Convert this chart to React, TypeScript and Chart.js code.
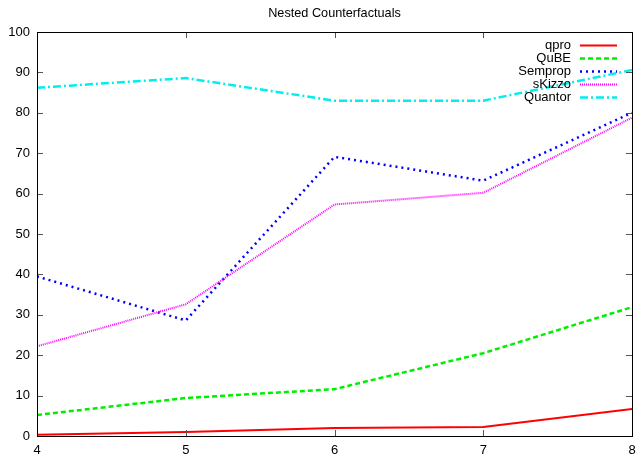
import React, { useEffect, useRef } from "react";
import { Chart, registerables } from "chart.js";

Chart.register(...registerables);

const categories = [4, 5, 6, 7, 8];
const qpro = [0.3, 1.0, 2.0, 2.2, 6.7];
const qube = [5.2, 9.4, 11.6, 20.5, 31.9];
const semprop = [39.5, 28.6, 69.1, 63.2, 80.0];
const skizzo = [22.2, 32.6, 57.3, 60.2, 78.8];
const quantor = [86.2, 88.6, 83.0, 83.0, 90.6];
const yTicks = [0, 10, 20, 30, 40, 50, 60, 70, 80, 90, 100];
const titleText = "Nested Counterfactuals";

const FONT = "'Liberation Sans', Arial, sans-serif";

const series = [
  { label: "qpro", data: qpro, color: "#ff0000", dash: [] as number[], width: 2 },
  { label: "QuBE", data: qube, color: "#00ee00", dash: [5, 3], width: 2.5 },
  { label: "Semprop", data: semprop, color: "#0000ff", dash: [2, 4], width: 2.5 },
  { label: "sKizzo", data: skizzo, color: "#ff00ff", dash: [1, 1], width: 2 },
  { label: "Quantor", data: quantor, color: "#00eeee", dash: [8, 3, 2, 3], width: 2.5 },
];

const framePlugin = {
  id: "frame",
  afterDraw(chart: any) {
    const { ctx, chartArea } = chart;
    const { left, right, top, bottom } = chartArea;
    const xs = chart.scales.x;
    const ys = chart.scales.y;
    ctx.save();
    ctx.strokeStyle = "#555";
    ctx.lineWidth = 1;
    ctx.beginPath();
    for (const v of yTicks) {
      const y = Math.round(ys.getPixelForValue(v)) + 0.5;
      ctx.moveTo(left, y);
      ctx.lineTo(left + 6, y);
      ctx.moveTo(right, y);
      ctx.lineTo(right - 6, y);
    }
    for (const v of categories) {
      const x = Math.round(xs.getPixelForValue(v)) + 0.5;
      ctx.moveTo(x, bottom);
      ctx.lineTo(x, bottom - 6);
      ctx.moveTo(x, top);
      ctx.lineTo(x, top + 6);
    }
    ctx.stroke();
    ctx.strokeStyle = "#000";
    ctx.lineWidth = 1;
    ctx.strokeRect(Math.round(left) + 0.5, Math.round(top) + 0.5, Math.round(right - left), Math.round(bottom - top));
    ctx.fillStyle = "#000";
    ctx.font = `12.7px ${FONT}`;
    ctx.textAlign = "center";
    ctx.textBaseline = "middle";
    ctx.fillText(titleText, (left + right) / 2, 13);
    ctx.font = `13px ${FONT}`;
    ctx.textAlign = "right";
    series.forEach((s, i) => {
      const y = 45 + i * 13;
      ctx.fillStyle = "#000";
      ctx.fillText(s.label, 571, y);
      ctx.strokeStyle = s.color;
      ctx.lineWidth = s.width;
      ctx.setLineDash(s.dash);
      ctx.beginPath();
      ctx.moveTo(580, y + 0.5);
      ctx.lineTo(617, y + 0.5);
      ctx.stroke();
      ctx.setLineDash([]);
    });
    ctx.restore();
  },
};

export default function App() {
  const ref = useRef<HTMLCanvasElement>(null);
  useEffect(() => {
    if (!ref.current) return;
    const chart = new Chart(ref.current, {
      type: "line",
      data: {
        datasets: series.map((s, i) => ({
          label: s.label,
          data: s.data.map((v, j) => ({ x: categories[j], y: v })),
          borderColor: s.color,
          backgroundColor: s.color,
          borderWidth: s.width,
          borderDash: s.dash,
          pointRadius: 0,
          tension: 0,
          fill: false,
          order: series.length - i,
        })),
      },
      options: {
        animation: false,
        responsive: false,
        maintainAspectRatio: false,
        layout: { padding: { top: 32, right: 6, left: 0, bottom: 0 } },
        plugins: { legend: { display: false }, title: { display: false }, tooltip: { enabled: false } },
        scales: {
          x: {
            type: "linear",
            min: 4,
            max: 8,
            grid: { display: false, drawTicks: false },
            border: { display: false },
            ticks: {
              stepSize: 1,
              padding: 7,
              color: "#000",
              font: { family: FONT, size: 13 },
              maxRotation: 0,
            },
            afterFit: (s: any) => {
              s.height = 20;
              s.paddingLeft = 0;
              s.paddingRight = 0;
            },
          },
          y: {
            type: "linear",
            min: 0,
            max: 100,
            grid: { display: false, drawTicks: false },
            border: { display: false },
            ticks: {
              stepSize: 10,
              padding: 7,
              color: "#000",
              font: { family: FONT, size: 13 },
            },
            afterFit: (s: any) => {
              s.width = 37;
              s.paddingTop = 0;
              s.paddingBottom = 0;
            },
          },
        },
      },
      plugins: [framePlugin],
    });
    return () => chart.destroy();
  }, []);
  return (
    <div style={{ position: "fixed", left: 0, top: 0, width: 638, height: 456, background: "#fff" }}>
      <canvas ref={ref} width={638} height={456} style={{ width: 638, height: 456 }} />
    </div>
  );
}
